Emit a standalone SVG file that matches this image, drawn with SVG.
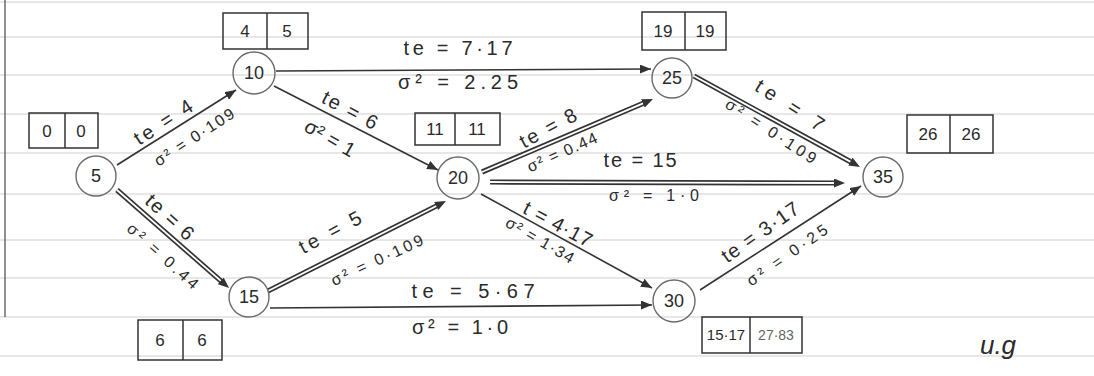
<svg xmlns="http://www.w3.org/2000/svg" width="1094" height="376" viewBox="0 0 1094 376">
<style>
.rule{stroke:#cfcfcf;stroke-width:1}
.node circle{fill:none;stroke:#6a6a6a;stroke-width:1.4}
.node text,.box text,.lbl{font-family:"Liberation Sans","DejaVu Sans",sans-serif;fill:#2a2a2a;text-anchor:middle}
.node text{font-size:18px}
.box rect,.box line{fill:none;stroke:#333;stroke-width:1.5}
.box text{font-size:17px}
.sgl{stroke:#333;stroke-width:1.6;fill:none;marker-end:url(#ah)}
.o{stroke:#333;stroke-width:5.2;fill:none}
.i{stroke:#fff;stroke-width:1.8;fill:none}
.tip{stroke:none;fill:none;marker-end:url(#ah)}
.lbl{font-size:20px}
.sm{font-size:16px}
</style>
<defs>
<marker id="ah" markerUnits="userSpaceOnUse" markerWidth="11" markerHeight="9" viewBox="0 0 11 9" refX="11" refY="4.5" orient="auto">
<path d="M0,0 L11,4.5 L0,9 Z" fill="#333"/>
</marker>
</defs>
<rect width="1094" height="376" fill="#fff"/>
<g id="paper">
<line class="rule" x1="0" y1="2" x2="1094" y2="2"/>
<line class="rule" x1="0" y1="37" x2="1094" y2="37"/>
<line class="rule" x1="0" y1="75" x2="1094" y2="75"/>
<line class="rule" x1="0" y1="114" x2="1094" y2="114"/>
<line class="rule" x1="0" y1="153" x2="1094" y2="153"/>
<line class="rule" x1="0" y1="194" x2="1094" y2="194"/>
<line class="rule" x1="0" y1="240" x2="1094" y2="240"/>
<line class="rule" x1="0" y1="278" x2="1094" y2="278"/>
<line class="rule" x1="0" y1="317" x2="1094" y2="317"/>
<line class="rule" x1="0" y1="356" x2="1094" y2="356"/>
<line x1="5" y1="0" x2="5" y2="317" stroke="#555" stroke-width="1.3"/>
</g>
<g id="connectors">
<path class="sgl" d="M117,165 L236,90"/>
<path class="sgl" d="M276,71 L651,69"/>
<path class="sgl" d="M274,86 L438,170"/>
<path class="sgl" d="M481,194 L652,288"/>
<path class="sgl" d="M270,308 L652,305"/>
<path class="sgl" d="M700,290 L861,186"/>
<path class="o" d="M117,190 L223.7,283.4"/><path class="i" d="M117,190 L223.7,283.4"/><path class="tip" d="M223.7,283.4 L229,288"/>
<path class="o" d="M268,291 L439.8,204.2"/><path class="i" d="M268,291 L439.8,204.2"/><path class="tip" d="M439.8,204.2 L446,201"/>
<path class="o" d="M482,172 L646.6,101.8"/><path class="i" d="M482,172 L646.6,101.8"/><path class="tip" d="M646.6,101.8 L653,99"/>
<path class="o" d="M490,182 L838,183"/><path class="i" d="M490,182 L838,183"/><path class="tip" d="M838,183 L845,183"/>
<path class="o" d="M694,76 L853.9,163.6"/><path class="i" d="M694,76 L853.9,163.6"/><path class="tip" d="M853.9,163.6 L860,167"/>
</g>
<g id="labels">
<text class="lbl" transform="translate(163,122) rotate(-33)" dy="0.35em" textLength="66" lengthAdjust="spacing">te = 4</text>
<text class="lbl sm" transform="translate(194,137) rotate(-33)" dy="0.35em" textLength="92" lengthAdjust="spacing">σ² = 0·109</text>
<text class="lbl" x="458" y="48" dy="0.35em" textLength="109" lengthAdjust="spacing">te = 7·17</text>
<text class="lbl" x="458" y="82" dy="0.35em" textLength="120" lengthAdjust="spacing">σ² = 2.25</text>
<text class="lbl" transform="translate(350,110) rotate(28)" dy="0.35em" textLength="60" lengthAdjust="spacing">te = 6</text>
<text class="lbl" transform="translate(330,138) rotate(30)" dy="0.35em" textLength="55" lengthAdjust="spacing">σ² = 1</text>
<text class="lbl" transform="translate(548,128) rotate(-28)" dy="0.35em" textLength="62" lengthAdjust="spacing">te = 8</text>
<text class="lbl sm" transform="translate(562,152) rotate(-24)" dy="0.35em" textLength="75" lengthAdjust="spacing">σ² = 0.44</text>
<text class="lbl" x="640" y="160" dy="0.35em" textLength="73" lengthAdjust="spacing">te = 15</text>
<text class="lbl sm" x="654" y="195" dy="0.35em" textLength="90" lengthAdjust="spacing">σ² = 1·0</text>
<text class="lbl" transform="translate(558,224) rotate(28)" dy="0.35em" textLength="75" lengthAdjust="spacing">t = 4·17</text>
<text class="lbl sm" transform="translate(540,240) rotate(30)" dy="0.35em" textLength="76" lengthAdjust="spacing">σ² = 1·34</text>
<text class="lbl" x="473" y="291" dy="0.35em" textLength="123" lengthAdjust="spacing">te = 5·67</text>
<text class="lbl" x="460" y="327" dy="0.35em" textLength="96" lengthAdjust="spacing">σ² = 1·0</text>
<text class="lbl" transform="translate(330,232) rotate(-28)" dy="0.35em" textLength="68" lengthAdjust="spacing">te = 5</text>
<text class="lbl sm" transform="translate(377,260) rotate(-25)" dy="0.35em" textLength="100" lengthAdjust="spacing">σ² = 0·109</text>
<text class="lbl" transform="translate(170,217) rotate(42)" dy="0.35em" textLength="58" lengthAdjust="spacing">te = 6</text>
<text class="lbl sm" transform="translate(163,256) rotate(42)" dy="0.35em" textLength="90" lengthAdjust="spacing">σ² = 0.44</text>
<text class="lbl" transform="translate(790,105) rotate(33)" dy="0.35em" textLength="78" lengthAdjust="spacing">te = 7</text>
<text class="lbl sm" transform="translate(771,131) rotate(33)" dy="0.35em" textLength="105" lengthAdjust="spacing">σ² = 0·109</text>
<text class="lbl" transform="translate(760,232) rotate(-35)" dy="0.35em" textLength="90" lengthAdjust="spacing">te = 3·17</text>
<text class="lbl sm" transform="translate(787,255) rotate(-35)" dy="0.35em" textLength="95" lengthAdjust="spacing">σ² = 0·25</text>
<text class="lbl" x="998" y="345" dy="0.35em" style="font-size:26px;font-style:italic">u.g</text>
</g>
<g id="node-5" class="node"><circle cx="96" cy="176" r="20"/><text x="96" y="176" dy="0.35em">5</text></g>
<g id="node-10" class="node"><circle cx="254" cy="73" r="21"/><text x="254" y="73" dy="0.35em">10</text></g>
<g id="node-15" class="node"><circle cx="249" cy="297" r="20"/><text x="249" y="297" dy="0.35em">15</text></g>
<g id="node-20" class="node"><circle cx="458" cy="178" r="21"/><text x="458" y="178" dy="0.35em">20</text></g>
<g id="node-25" class="node"><circle cx="672" cy="78" r="20"/><text x="672" y="78" dy="0.35em">25</text></g>
<g id="node-30" class="node"><circle cx="674" cy="301" r="21"/><text x="674" y="301" dy="0.35em">30</text></g>
<g id="node-35" class="node"><circle cx="883" cy="177" r="20"/><text x="883" y="177" dy="0.35em">35</text></g>
<g id="box-5" class="box"><rect x="29" y="113" width="69" height="35"/><line x1="65" y1="113" x2="65" y2="148"/><text x="47" y="131" dy="0.35em">0</text><text x="81" y="131" dy="0.35em">0</text></g>
<g id="box-10" class="box"><rect x="223" y="13" width="85" height="36"/><line x1="267" y1="13" x2="267" y2="49"/><text x="245" y="31" dy="0.35em">4</text><text x="287" y="31" dy="0.35em">5</text></g>
<g id="box-25" class="box"><rect x="642" y="12" width="84" height="38"/><line x1="685" y1="12" x2="685" y2="50"/><text x="663" y="31" dy="0.35em">19</text><text x="705" y="31" dy="0.35em">19</text></g>
<g id="box-35" class="box"><rect x="907" y="115" width="86" height="38"/><line x1="950" y1="115" x2="950" y2="153"/><text x="928" y="134" dy="0.35em">26</text><text x="971" y="134" dy="0.35em">26</text></g>
<g id="box-20" class="box"><rect x="415" y="113" width="85" height="32"/><line x1="455" y1="113" x2="455" y2="145"/><text x="435" y="129" dy="0.35em">11</text><text x="477" y="129" dy="0.35em">11</text></g>
<g id="box-15" class="box"><rect x="138" y="320" width="84" height="40"/><line x1="183" y1="320" x2="183" y2="360"/><text x="160" y="340" dy="0.35em">6</text><text x="202" y="340" dy="0.35em">6</text></g>
<g id="box-30" class="box"><rect x="702" y="317" width="100" height="36"/><line x1="750" y1="317" x2="750" y2="353"/><text x="726" y="335" dy="0.35em" style="font-size:15px">15·17</text><text x="776" y="335" dy="0.35em" style="font-size:14px;fill:#666">27·83</text></g>
</svg>
